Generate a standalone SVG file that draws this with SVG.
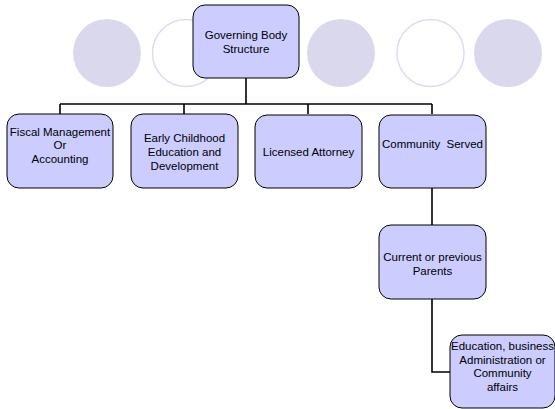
<svg xmlns="http://www.w3.org/2000/svg" width="555" height="409" viewBox="0 0 555 409">
<style>
.bg{fill:#d9d8ec;stroke:none}
.ring{fill:#ffffff;stroke:#dcdcef;stroke-width:1.5}
.box{fill:#ccccff;stroke:#000000;stroke-width:1}
.lbl{font-family:"Liberation Sans",Arial,sans-serif;font-size:11.5px;fill:#000000;text-anchor:middle}
.conn{fill:none;stroke:#000000;stroke-width:1.6}
</style>
<rect width="555" height="409" fill="#ffffff"/>
<g id="decor">
<circle class="bg" cx="107" cy="53" r="34"/>
<circle class="ring" cx="186" cy="53" r="33.5"/>
<circle class="bg" cx="341" cy="53" r="34"/>
<circle class="ring" cx="430.5" cy="53" r="33.5"/>
<circle class="bg" cx="508" cy="53" r="34"/>
</g>
<g id="connectors">
<path class="conn" d="M246 78 V104 M60 104 H432 M60 104 V114 M184 104 V114 M308 104 V114 M432 104 V114"/>
<path class="conn" d="M432 188 V225"/>
<path class="conn" d="M432 299 V372 H450"/>
</g>
<g id="governing">
<rect class="box" x="193" y="5" width="106" height="73" rx="12"/>
<text class="lbl" x="246" y="39">Governing Body</text>
<text class="lbl" x="246" y="53">Structure</text>
</g>
<g id="fiscal">
<rect class="box" x="7" y="114" width="106" height="74" rx="12"/>
<text class="lbl" x="60" y="135.5">Fiscal Management</text>
<text class="lbl" x="60" y="149">Or</text>
<text class="lbl" x="60" y="163">Accounting</text>
</g>
<g id="early">
<rect class="box" x="131" y="114" width="107" height="74" rx="12"/>
<text class="lbl" x="184.5" y="142">Early Childhood</text>
<text class="lbl" x="184.5" y="156">Education and</text>
<text class="lbl" x="184.5" y="170">Development</text>
</g>
<g id="attorney">
<rect class="box" x="255" y="115" width="107" height="73" rx="12"/>
<text class="lbl" x="308.5" y="156">Licensed Attorney</text>
</g>
<g id="community">
<rect class="box" x="379" y="115" width="107" height="73" rx="12"/>
<text class="lbl" x="432.5" y="148" xml:space="preserve">Community  Served</text>
</g>
<g id="parents">
<rect class="box" x="379" y="225" width="107" height="74" rx="12"/>
<text class="lbl" x="432.5" y="261">Current or previous</text>
<text class="lbl" x="432.5" y="275">Parents</text>
</g>
<g id="education">
<rect class="box" x="450" y="335" width="105" height="73" rx="12"/>
<text class="lbl" x="502.5" y="350">Education, business</text>
<text class="lbl" x="502.5" y="363.5">Administration or</text>
<text class="lbl" x="502.5" y="377">Community</text>
<text class="lbl" x="502.5" y="390.5">affairs</text>
</g>
</svg>
